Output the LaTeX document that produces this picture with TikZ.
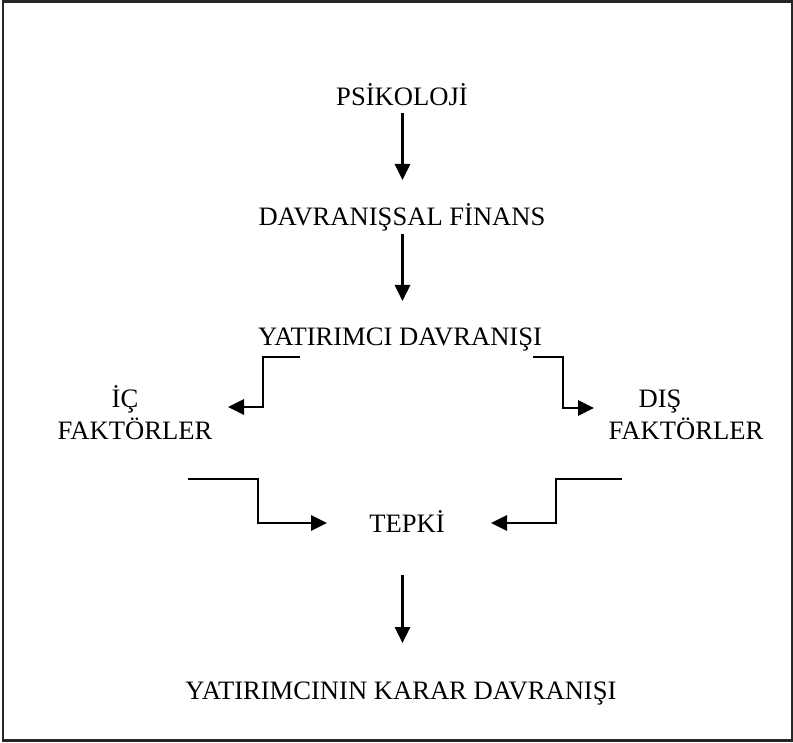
\documentclass[tikz,border=0pt]{standalone}
\usepackage{fontspec}
\setmainfont{Liberation Serif}
\usetikzlibrary{arrows.meta}
\begin{document}
\begin{tikzpicture}[x=1pt,y=-1pt,
  lbl/.style={font=\fontsize{26.6}{30}\selectfont, inner sep=0pt, anchor=base},
  conn/.style={line width=2.9pt, -{Triangle[length=16pt,width=15pt]}},
  frame/.style={line width=2.6pt, draw={black!85}}]
\useasboundingbox (0,0) rectangle (793,743);
\draw[frame] (3,1.3) rectangle (792,740.5);
% texts
\node[lbl] (psi) at (402,106) {PSİKOLOJİ};
\node[lbl] (fin) at (402,226) {DAVRANIŞSAL FİNANS};
\node[lbl] (yat) at (400,346) {YATIRIMCI DAVRANIŞI};
\node[lbl] (ic) at (125,408) {İÇ};
\node[lbl] (icf) at (135,439) {FAKTÖRLER};
\node[lbl] (dis) at (660,408) {DIŞ};
\node[lbl] (disf) at (686,439) {FAKTÖRLER};
\node[lbl] (tep) at (407,532) {TEPKİ};
\node[lbl] (kar) at (401,699) {YATIRIMCININ KARAR DAVRANIŞI};
% connector ends
\coordinate (a1s) at (402.5,113);
\coordinate (a1e) at (402.5,180);
\coordinate (a2s) at (402.5,234);
\coordinate (a2e) at (402.5,301);
\coordinate (a3s) at (402.5,575);
\coordinate (a3e) at (402.5,643);
\coordinate (lts) at (300,357);
\coordinate (lte) at (228,407);
\coordinate (rts) at (533,357);
\coordinate (rte) at (594,408);
\coordinate (lbs) at (188,479);
\coordinate (lbe) at (327,523);
\coordinate (rbs) at (622,479);
\coordinate (rbe) at (491,523);
% connectors
\draw[conn] (a1s) -- (a1e);
\draw[conn] (a2s) -- (a2e);
\draw[conn] (a3s) -- (a3e);
\draw[conn] (lts) -| (263,407) -- (lte);
\draw[conn] (rts) -| (563,408) -- (rte);
\draw[conn] (lbs) -| (258,523) -- (lbe);
\draw[conn] (rbs) -| (556,523) -- (rbe);
\end{tikzpicture}
\end{document}
